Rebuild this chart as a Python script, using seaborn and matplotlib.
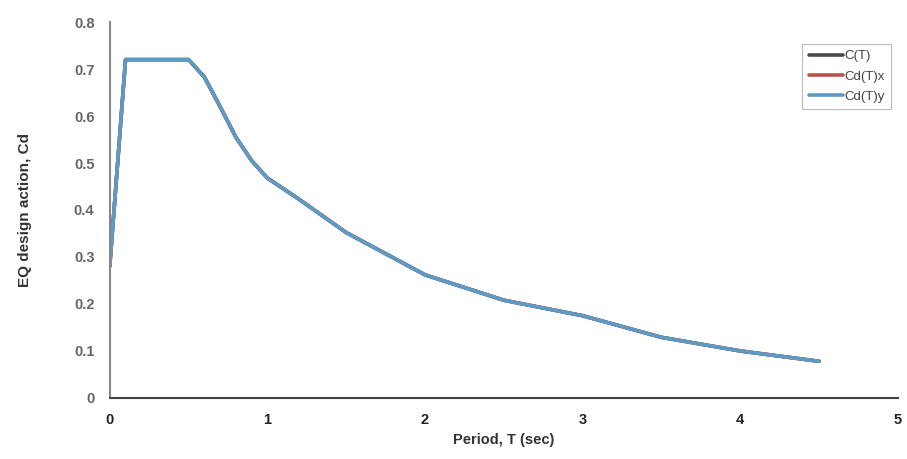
import pandas as pd
import seaborn as sns
import numpy as np
import matplotlib.pyplot as plt

sns.set_style('white')
plt.rcParams['font.family'] = ['Liberation Sans', 'DejaVu Sans']

# spectrum values
period = [0, 0.1, 0.5, 0.6, 0.7, 0.8, 0.9, 1.0, 1.2, 1.5, 1.7, 2.0, 2.5, 3.0, 3.5, 4.0, 4.5]
c_t = [0.28, 0.72, 0.72, 0.683, 0.62, 0.555, 0.505, 0.468, 0.423, 0.352, 0.316, 0.262, 0.208, 0.175, 0.129, 0.100, 0.078]
cd_x = c_t
cd_y = c_t

series_names = ['C(T)', 'Cd(T)x', 'Cd(T)y']
series_colors = ['#4a4a4a', '#c0504d', '#5b9bc5']

df = pd.DataFrame({'T': period * 3,
                   'Cd': c_t + cd_x + cd_y,
                   'series': np.repeat(series_names, len(period))})

fig = plt.figure(figsize=(9.07, 4.59), dpi=100)
ax = fig.add_axes([0.121, 0.133, 0.869, 0.819])

sns.lineplot(data=df, x='T', y='Cd', hue='series', hue_order=series_names,
             palette=series_colors, linewidth=2.6, ax=ax, estimator=None, sort=False)

ax.set_xlim(0, 5)
ax.set_ylim(0, 0.8)
ax.set_xticks([0, 1, 2, 3, 4, 5])
ax.set_xticklabels(['0', '1', '2', '3', '4', '5'])
ax.set_yticks(np.arange(0, 0.81, 0.1))
ax.set_yticklabels(['0', '0.1', '0.2', '0.3', '0.4', '0.5', '0.6', '0.7', '0.8'])
ax.tick_params(axis='both', labelsize=10.5, colors='#555555', length=3, direction='out')
for lbl in ax.get_xticklabels() + ax.get_yticklabels():
    lbl.set_fontweight('bold')
ax.tick_params(axis='x', colors='#333333', labelcolor='#222222', pad=8)
ax.tick_params(axis='y', labelcolor='#666666', pad=8)

ax.set_xlabel('Period, T (sec)', fontsize=10.5, fontweight='bold', color='#333333', labelpad=4)
ax.set_ylabel('EQ design action, Cd', fontsize=11, fontweight='bold', color='#333333', labelpad=30)

sns.despine(ax=ax)
ax.spines['left'].set_color('#888888')
ax.spines['left'].set_linewidth(1.5)
ax.spines['bottom'].set_color('#444444')
ax.spines['bottom'].set_linewidth(1.5)

leg = ax.legend(loc='upper right', bbox_to_anchor=(1.0, 0.96), frameon=True, fancybox=False,
                fontsize=9.5, handlelength=2.6, handletextpad=0.1, borderpad=0.5,
                labelspacing=0.6, title=None)
leg.get_frame().set_edgecolor('#aaaaaa')
leg.get_frame().set_linewidth(0.8)
for t in leg.get_texts():
    t.set_color('#444444')

fig.savefig('out.png', dpi=100)
